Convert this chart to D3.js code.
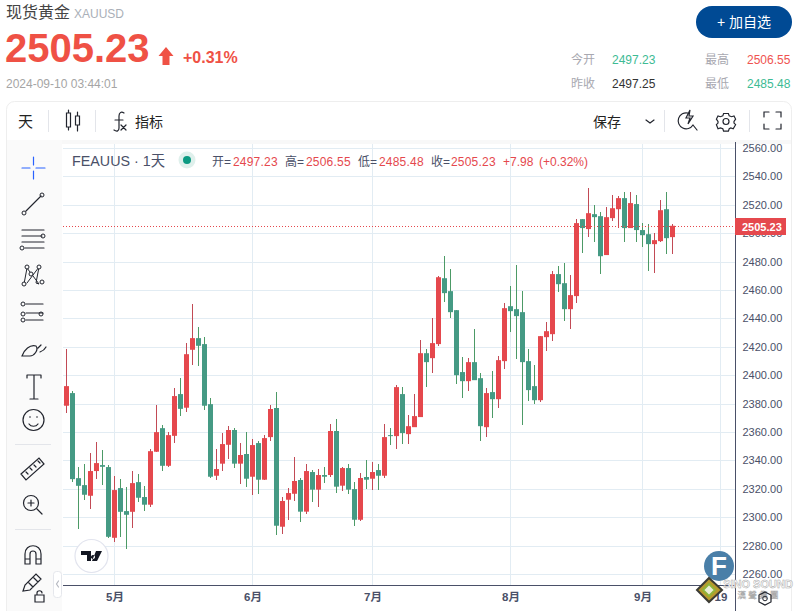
<!DOCTYPE html>
<html><head><meta charset="utf-8">
<script src="https://cdn.jsdelivr.net/npm/d3@7/dist/d3.min.js"></script>
<style>
html,body{margin:0;padding:0;background:#fff;overflow:hidden}
svg{display:block}
text{font-family:"Liberation Sans","Noto Sans CJK SC",sans-serif}
</style></head><body><svg id="c" width="796" height="611"></svg>
<script>
const opens=[2378.5,2387.4,2327.5,2322.6,2315.1,2332.5,2336.7,2335.3,2285.5,2320.5,
2304.3,2303.8,2324.7,2314.2,2308.8,2346.1,2362.7,2336.2,2357.3,2386.7,
2377.1,2417.9,2426.1,2421.9,2379.6,2329.2,2337.7,2351,2361.4,2337.7,
2344.5,2328.5,2352.2,2326.4,2356.4,2376.9,2293.3,2312.3,2316.5,2326.2,
2303.9,2331.8,2319.4,2329.7,2329.7,2360.7,2322.2,2334.6,2319.8,2298.2,
2328.3,2327.1,2333.2,2329.2,2357.8,2357.1,2386.7,2358.5,2363.4,2370.5,
2415.5,2412,2421.9,2468.3,2459.2,2445.8,2402.2,2395.8,2409.2,2397.9,
2363.4,2388.1,2383.1,2409.9,2448.6,2446.5,2444.4,2409.9,2392.3,2382.4,
2426.8,2428.9,2471.2,2464.8,2446.5,2455.7,2509.9,2502.9,2513.4,2512,
2484.6,2510.6,2516.9,2524.7,2503.6,2520.5,2502.2,2499.3,2492.3,2494.4,2516.9,2497.23];
const closes=[2392.3,2326.8,2322.1,2315.8,2332.5,2338.1,2335.5,2286.2,2319.1,2303.8,
2301.7,2324,2313.7,2308.8,2346.5,2359.9,2336.2,2357.8,2385.3,2376.3,
2414.8,2426.1,2420.7,2378.5,2328.5,2333.9,2351.5,2361.4,2337.7,2343.8,
2327.1,2350.8,2326.4,2355.7,2376.2,2294,2311.4,2317,2325.5,2303.9,
2332.5,2319.4,2329.7,2328.5,2360.7,2321.5,2334.6,2319.4,2298.2,2327.6,
2326.4,2331.8,2329.2,2356.4,2357.1,2391.6,2359.2,2364.1,2371.2,2415.5,
2409.2,2422.6,2469,2457.8,2444.4,2400,2395.8,2409.2,2396.5,2364.1,
2387.4,2383.1,2410.6,2447.2,2445.1,2441.6,2409.2,2389.5,2382.4,2427.5,
2431,2471.2,2464.1,2446.5,2456.4,2507.1,2503.6,2514.1,2511.3,2483.8,
2511.3,2517.6,2524.7,2503.6,2521.2,2502.2,2498.6,2492.3,2495.1,2516.2,2496.5,2505.23];
const highs=[2418.1,2388.8,2335.3,2337.4,2345.1,2352.9,2347.2,2336.7,2328.9,2326.8,
2321.2,2332.2,2330.3,2321.9,2347.9,2378.9,2364.8,2359.9,2390.9,2397.9,
2422.6,2450,2433.8,2426.8,2383.9,2347.9,2359.3,2364.2,2362.8,2352.2,
2360,2355,2353.6,2357.9,2379,2388.1,2314.2,2320.5,2342.4,2327.6,
2337.4,2333.2,2333.9,2335.3,2365.6,2369.1,2335.3,2337.4,2324.8,2331.1,
2340.2,2338.8,2337.4,2365.6,2362.7,2393,2391.6,2371.9,2386.7,2424.7,
2418.4,2440.2,2469.8,2483.8,2474.7,2445.8,2412.7,2412,2432.4,2401.5,
2390.9,2402.9,2413.4,2450.7,2462.7,2477.5,2459.2,2418.4,2407.1,2427.5,
2437.4,2473.3,2476.8,2478.9,2470.5,2509.9,2509.9,2531.7,2519.8,2514.8,
2518.3,2526.8,2526.1,2528.9,2528.9,2526.8,2507.1,2506.4,2500,2523.3,2528.9,2506.55];
const lows=[2373.5,2324.9,2291.9,2312.3,2305.9,2327.1,2322.8,2285.5,2282.7,2286.2,
2277.8,2292.6,2310.9,2304.5,2307.3,2346.1,2332.7,2335.5,2352.4,2371.4,
2374.2,2407.3,2406.6,2375.6,2327.8,2326.4,2332.7,2341.2,2334.9,2323.6,
2321.5,2315.8,2316.5,2326.4,2353.9,2287.7,2288.4,2298.2,2311.6,2296.8,
2302.5,2310.9,2307.4,2324.3,2328.5,2317.2,2318.7,2316.5,2294,2297.5,
2320.1,2319.4,2319.4,2327.8,2350.8,2348,2351.5,2351.5,2363.4,2370.5,
2391.6,2401.5,2420.5,2451.4,2440.2,2393.7,2383.9,2388.8,2396.5,2353.6,
2356.4,2369.8,2376.8,2404.3,2430.3,2411.3,2364.8,2381.7,2379.6,2381,
2416.9,2424,2458.5,2438.1,2432.4,2450.8,2486,2497.2,2493.7,2471.2,
2484.6,2508.5,2503.6,2493.7,2503.6,2493.7,2490.2,2473.3,2471.9,2493.7,2485.3,2485.48];
const priceTicks=[2560,2540,2520,2500,2480,2460,2440,2420,2400,2380,2360,2340,2320,2300,2280,2260];
const timeTickIndex=[8,31,51,74,96,109];
const timeTickLabels=["5月","6月","7月","8月","9月","19"];
const lastPrice=2505.23;

const svg=d3.select("#c");
const RED="#e5484d",GREEN="#459a84",WRED="#c24a55",WGREEN="#4c9a66",INK="#4a5068";
const y=d3.scaleLinear().domain([2560,2260]).range([148,574]);
const x=d3.scaleLinear().domain([0,109]).range([66.5,720.5]);
const T=(s,px,py,o={})=>svg.append("text").text(s).attr("x",px).attr("y",py)
  .attr("font-size",o.size||12).attr("fill",o.fill||"#333").attr("font-weight",o.weight||null)
  .attr("text-anchor",o.anchor||null).attr("letter-spacing",o.ls||null);

/* header */
T("现货黄金",6,18,{size:16,fill:"#444"});
T("XAUUSD",74,18,{size:12,fill:"#aab0b8"});
T("2505.23",5,62,{size:40,fill:"#ef5145",weight:"bold"});
svg.append("path").attr("d","M166 47 L173.5 56 L169.5 56 L169.5 65 L162.5 65 L162.5 56 L158.5 56Z").attr("fill","#ef5145");
T("+0.31%",183,63,{size:16,fill:"#ef5145",weight:"bold"});
T("2024-09-10 03:44:01",6,88,{size:12,fill:"#a5a5a5"});
svg.append("rect").attr("x",696).attr("y",6).attr("width",96).attr("height",32).attr("rx",16).attr("fill","#004a94");
T("+ 加自选",744,27,{size:14,fill:"#fff",anchor:"middle"});
T("今开",571,64,{fill:"#a8a8b0"});T("2497.23",612,64,{fill:"#3dbb94"});
T("最高",705,64,{fill:"#a8a8b0"});T("2506.55",747,64,{fill:"#ef5350"});
T("昨收",571,88,{fill:"#a8a8b0"});T("2497.25",612,88,{fill:"#333"});
T("最低",705,88,{fill:"#a8a8b0"});T("2485.48",747,88,{fill:"#3dbb94"});

/* card and panels */
svg.append("rect").attr("x",6.5).attr("y",101.5).attr("width",785).attr("height",530).attr("rx",8).attr("fill","#fff").attr("stroke","#eeeeee");
svg.append("rect").attr("x",7).attr("y",140).attr("width",784).attr("height",4).attr("fill","#f8f8f8");
svg.append("rect").attr("x",7).attr("y",140).attr("width",55).attr("height",471).attr("fill","#fafafa");
[48,95,664,749].forEach(v=>svg.append("line").attr("x1",v+.5).attr("x2",v+.5).attr("y1",110).attr("y2",132).attr("stroke","#e3e5ea"));

/* grid */
const grid=svg.append("g").attr("stroke","#e2ecf3").attr("stroke-width",1).attr("shape-rendering","crispEdges");
grid.selectAll("line.h").data(priceTicks).join("line").attr("x1",63).attr("x2",735).attr("y1",d=>Math.round(y(d))).attr("y2",d=>Math.round(y(d)));
grid.selectAll("line.v").data(timeTickIndex).join("line").attr("x1",d=>x(d)).attr("x2",d=>x(d)).attr("y1",144).attr("y2",585);

/* candles */
const idx=d3.range(opens.length);
const up=i=>closes[i]>=opens[i];
const g=svg.append("g");
g.selectAll("line").data(idx).join("line").attr("x1",x).attr("x2",x)
  .attr("y1",i=>y(highs[i])).attr("y2",i=>y(lows[i]))
  .attr("stroke",i=>up(i)?WRED:WGREEN).attr("stroke-width",1).attr("shape-rendering","crispEdges");
g.selectAll("rect").data(idx).join("rect").attr("x",i=>x(i)-2.5).attr("width",5)
  .attr("y",i=>y(Math.max(opens[i],closes[i])))
  .attr("height",i=>Math.max(1,Math.abs(y(opens[i])-y(closes[i]))))
  .attr("fill",i=>up(i)?RED:GREEN);

/* last price */
svg.append("line").attr("x1",63).attr("x2",735).attr("y1",Math.round(y(lastPrice))+.5).attr("y2",Math.round(y(lastPrice))+.5)
  .attr("stroke","#e5484d").attr("stroke-dasharray","1 2");

/* axes */
const ya=d3.axisRight(y).tickValues(priceTicks).tickSize(0).tickPadding(7).tickFormat(d3.format(".2f"));
const yg=svg.append("g").attr("transform","translate(735.5,0)").call(ya);
yg.select(".domain").remove();
yg.selectAll("text").attr("font-size",11).attr("fill",INK).attr("font-family",'"Liberation Sans",sans-serif');
svg.append("line").attr("x1",735.5).attr("x2",735.5).attr("y1",142).attr("y2",611).attr("stroke",INK);
const xa=d3.axisBottom(x).tickValues(timeTickIndex).tickSize(0).tickPadding(7).tickFormat((d,i)=>timeTickLabels[i]);
const xg=svg.append("g").attr("transform","translate(0,585.5)").call(xa);
xg.select(".domain").remove();
xg.selectAll("text").attr("font-size",11.5).attr("font-weight","bold").attr("fill",INK).attr("font-family",'"Liberation Sans","Noto Sans CJK SC",sans-serif');
svg.append("line").attr("x1",63).attr("x2",735).attr("y1",585.5).attr("y2",585.5).attr("stroke",INK);
svg.append("rect").attr("x",735).attr("y",218).attr("width",51).attr("height",17).attr("fill",RED);
T(d3.format(".2f")(lastPrice),742,231,{size:11,fill:"#fff",weight:"bold"});

/* legend */
T("FEAUUS · 1天",72,166,{size:14.3,fill:INK});
svg.append("circle").attr("cx",187).attr("cy",160).attr("r",8.5).attr("fill","#dff0ec");
svg.append("circle").attr("cx",187).attr("cy",160).attr("r",4).attr("fill","#0c9a82");
[["开=",212,"2497.23",233],["高=",285,"2506.55",306],["低=",358,"2485.48",379],["收=",431,"2505.23",451]].forEach(a=>{
  T(a[0],a[1],166,{fill:INK});T(a[2],a[3],166,{fill:RED,ls:".2"});
});
T("+7.98",503,166,{fill:RED});T("(+0.32%)",539,166,{fill:RED});

/* top toolbar */
T("天",18,127,{size:15,fill:"#222"});
const ic=(d,o={})=>svg.append("path").attr("d",d).attr("fill",o.fill||"none").attr("stroke",o.stroke||"#22252e").attr("stroke-width",o.w||1.2).attr("stroke-linecap","round");
ic("M66.5 113h4v14h-4zM68.5 110v3M68.5 127v3M75.5 116h4v9h-4zM77.5 112v4M77.5 125v6");
ic("M124 113c-3-2-5 0-5 3v12c0 3-2 4-5 2M115 120h8M121 125l5 5M126 125l-5 5");
T("指标",135,127,{size:14,fill:"#222"});
T("保存",593,127,{size:14,fill:"#222"});
ic("M646 120l4 3 4-3");
ic("M688 113a8 8 0 1 0 5 12M693 125l4 5M690 110l-4 8h4l-2 6 5-8h-4z");
svg.append("circle").attr("cx",726).attr("cy",121.5).attr("r",3).attr("fill","none").attr("stroke","#22252e").attr("stroke-width",1.2);
ic("M-3 -10h6l1 3 3 1 3-1 2 4-2 3 0 2 2 2-3 5-3-1-2 1-1 3h-6l-1-3-3-1-3 1-2-5 2-2v-2l-2-3 2-4 3 1 3-1z").attr("transform","translate(726,121.5) scale(.8)").attr("stroke-width",1.5);
ic("M764 117v-5h5M776 112h5v5M781 124v5h-5M769 129h-5v-5");

/* left toolbar */
ic("M22 168h8M36 168h9M33.5 157v8M33.5 171v8",{stroke:"#2962ff"});
ic("M26 211l15-15");
[[24,213],[42,195]].forEach(p=>svg.append("circle").attr("cx",p[0]).attr("cy",p[1]).attr("r",2).attr("fill","none").attr("stroke","#22252e"));
ic("M22 230h22M22 236h20M22 242h22M25 248h19");
[[43,236],[22,248]].forEach(p=>svg.append("circle").attr("cx",p[0]).attr("cy",p[1]).attr("r",2).attr("fill","none").attr("stroke","#22252e"));
ic("M24 284l3-16 12 16-3-1 3-16-12 16",{w:1});
[[24,284],[27,267],[39,267],[42,282],[31,274]].forEach(p=>svg.append("circle").attr("cx",p[0]).attr("cy",p[1]).attr("r",2).attr("fill","#fafafa").attr("stroke","#22252e"));
ic("M26 304h17M26 313h17M26 320h17");
[[23,304],[23,314],[23,320],[41,314]].forEach(p=>svg.append("circle").attr("cx",p[0]).attr("cy",p[1]).attr("r",2).attr("fill","none").attr("stroke","#22252e"));
ic("M22 356c2-6 8-12 14-10 3 4-2 10-6 10zM38 348l3-3M40 352c3-1 5-3 6-5");
ic("M27 375h14M34 375v24M30 399h8M27 375v3M41 375v3");
svg.append("circle").attr("cx",33.5).attr("cy",420).attr("r",10.5).attr("fill","none").attr("stroke","#22252e").attr("stroke-width",1.2);
ic("M29 424c2 3 7 3 9 0");
[[30,417],[37,417]].forEach(p=>svg.append("circle").attr("cx",p[0]).attr("cy",p[1]).attr("r",.8).attr("fill","#22252e"));
[444,529].forEach(v=>svg.append("line").attr("x1",15).attr("x2",51).attr("y1",v+.5).attr("y2",v+.5).attr("stroke","#e3e5ea"));
ic("M21 474l18-16 5 6-18 16zM26 472l2 2M30 468l2 2M34 465l2 2M38 461l2 2");
svg.append("circle").attr("cx",31).attr("cy",503).attr("r",7.5).attr("fill","none").attr("stroke","#22252e").attr("stroke-width",1.2);
ic("M28 503h6M31 500v6M37 509l5 5");
ic("M25 564v-10c0-11 16-11 16 0v10h-5v-10c0-4-6-4-6 0v10zM25 559h5M36 559h5");
ic("M23 591l2-6 11-11 5 5-11 11zM28 582l5 5M33 577l5 5");
ic("M35 595h9v7h-9zM37 595v-2c0-3 5-3 5 0");
svg.append("rect").attr("x",53.5).attr("y",571.5).attr("width",8).attr("height",26).attr("rx",3).attr("fill","#fff").attr("stroke","#e5e7ec");
ic("M58.5 581l-2 3 2 3",{stroke:"#b5b8c0"});

/* TradingView badge */
svg.append("circle").attr("cx",91.5).attr("cy",556).attr("r",16.5).attr("fill","#fff").attr("stroke","#e2e4ee").attr("stroke-width",1.2);
svg.append("path").attr("d","M81 551h10v10h-4v-6h-6zM93 555a2 2 0 1 0 .01 0M96 551h6l-5 10h-5z").attr("fill","#131722");

/* watermark */
svg.append("circle").attr("cx",719).attr("cy",566).attr("r",15).attr("fill","#4a7fa8");
T("F",719,575,{size:26,fill:"#fff",weight:"bold",anchor:"middle"});
svg.append("path").attr("d","M709 578L722 590L709 602L697 590Z").attr("fill","#b79a2e").attr("stroke","#3b3b35").attr("stroke-width",2);
svg.append("path").attr("d","M709 584L715 590L709 596L703 590Z").attr("fill","#e9eed8").attr("stroke","#8fb43a").attr("stroke-width",2);
T("SINO SOUND",758,588,{size:11,fill:"#fff",weight:"bold",anchor:"middle"}).attr("stroke","#aaa").attr("stroke-width",.5);
T("漢 聲 集 團",758,598,{size:8.5,fill:"#fff",anchor:"middle"}).attr("stroke","#aaa").attr("stroke-width",.4);
ic("M765 592l6 3v7l-6 3-6-3v-7z");
svg.append("circle").attr("cx",765).attr("cy",598.5).attr("r",2.3).attr("fill","none").attr("stroke","#22252e");
</script></body></html>
